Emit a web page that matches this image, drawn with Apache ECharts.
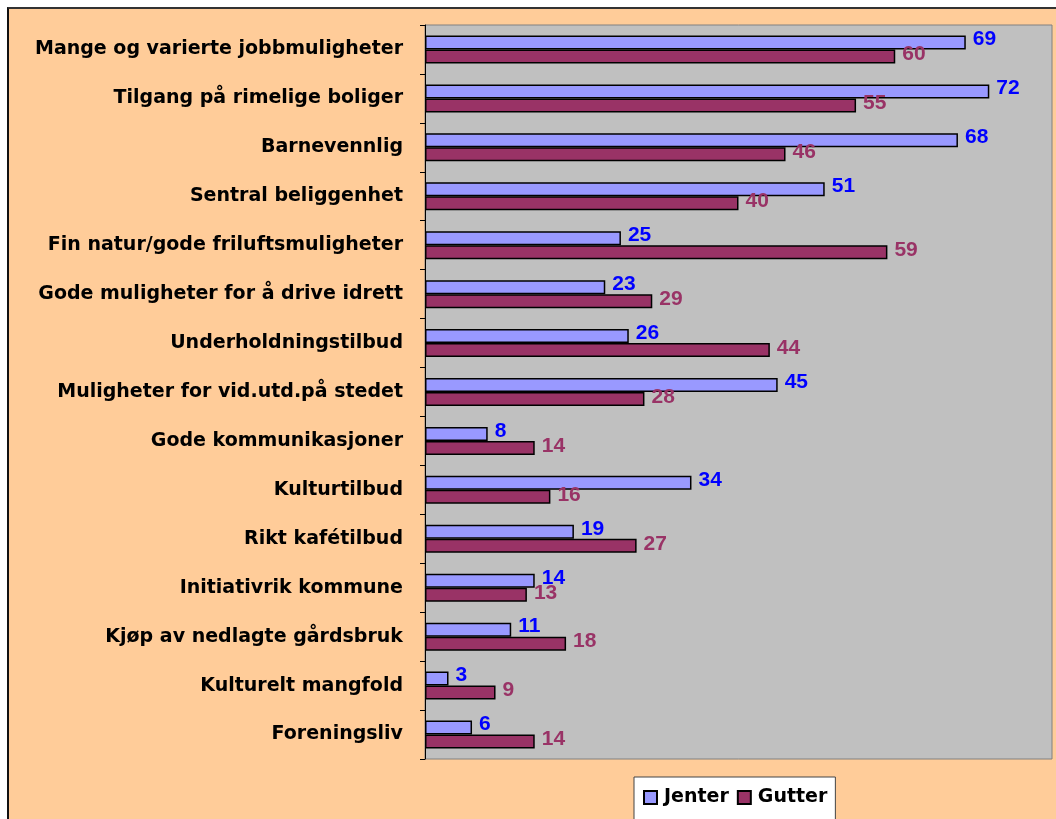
<!DOCTYPE html>
<html>
<head>
<meta charset="utf-8">
<script src="https://cdn.jsdelivr.net/npm/echarts@6/dist/echarts.min.js"></script>
<style>
  html, body { margin: 0; padding: 0; background: #fff; }
  #frame { position: absolute; left: 7px; top: 7px; width: 1049px; height: 812px;
           background: #FFCC99; border-left: 2px solid #111; border-top: 2px solid #333; }
  #main { position: absolute; left: 0; top: 0; width: 1056px; height: 819px; }
</style>
</head>
<body>
<div id="frame"></div>
<div id="main"></div>
<script>
const categories = [
  'Mange og varierte jobbmuligheter',
  'Tilgang på rimelige boliger',
  'Barnevennlig',
  'Sentral beliggenhet',
  'Fin natur/gode friluftsmuligheter',
  'Gode muligheter for å drive idrett',
  'Underholdningstilbud',
  'Muligheter for vid.utd.på stedet',
  'Gode kommunikasjoner',
  'Kulturtilbud',
  'Rikt kafétilbud',
  'Initiativrik kommune',
  'Kjøp av nedlagte gårdsbruk',
  'Kulturelt mangfold',
  'Foreningsliv'
];
const jenter = [69, 72, 68, 51, 25, 23, 26, 45, 8, 34, 19, 14, 11, 3, 6];
const gutter = [60, 55, 46, 40, 59, 29, 44, 28, 14, 16, 27, 13, 18, 9, 14];

// labels in the picture are wide, DejaVu fits their width better
const wideFont = "'DejaVu Sans', sans-serif";
const numFont = "'Liberation Sans', Arial, sans-serif";

let myChart = echarts.init(document.getElementById('main'));
let option = {
    backgroundColor: 'transparent',
    textStyle: { fontFamily: wideFont },
    grid: {
        left: 425, top: 25, width: 627, height: 734,
        show: true,
        backgroundColor: '#C0C0C0',
        borderColor: '#808080',
        borderWidth: 1
    },
    legend: {
        data: ['Jenter', 'Gutter'],
        left: 634, top: 777,
        backgroundColor: '#fff',
        borderColor: '#444',
        borderWidth: 1,
        padding: [11, 8, 20, 9],
        itemGap: 8,
        itemWidth: 13,
        itemHeight: 13,
        icon: 'rect',
        textStyle: { fontSize: 19, fontWeight: 'bold', color: '#000', fontFamily: wideFont, padding: [0, 0, 0, 2] }
    },
    xAxis: {
        type: 'value',
        min: 0,
        max: 80,
        show: false,
        splitLine: { show: false }
    },
    yAxis: {
        type: 'category',
        inverse: true,
        data: categories,
        axisLine: { lineStyle: { color: '#000', width: 1 } },
        axisTick: { show: true, length: 5, lineStyle: { color: '#000' } },
        axisLabel: { fontSize: 19, fontWeight: 'bold', color: '#000', margin: 22, fontFamily: wideFont }
    },
    series: [
        {
            name: 'Jenter',
            type: 'bar',
            data: jenter,
            barWidth: 14,
            barGap: '0%',
            itemStyle: { color: '#9999FF', borderColor: '#000', borderWidth: 1.5 },
            label: {
                show: true, position: 'right', distance: 7, offset: [0, -3],
                fontSize: 21, fontWeight: 'bold', color: '#0000FF', fontFamily: numFont
            }
        },
        {
            name: 'Gutter',
            type: 'bar',
            data: gutter,
            barWidth: 14,
            barGap: '0%',
            itemStyle: { color: '#993366', borderColor: '#000', borderWidth: 1.5 },
            label: {
                show: true, position: 'right', distance: 7, offset: [0, -2],
                fontSize: 21, fontWeight: 'bold', color: '#993366', fontFamily: numFont
            }
        }
    ]
};
option && myChart.setOption(option);
</script>
</body>
</html>
